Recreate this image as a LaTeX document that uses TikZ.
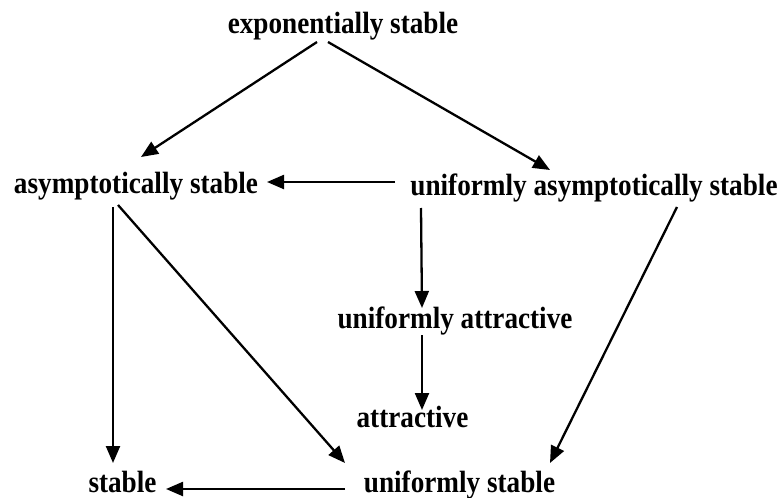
\documentclass[tikz,border=0pt]{standalone}
\usepackage{fontspec}
\setmainfont{Liberation Serif}
\usetikzlibrary{arrows.meta}
\newcommand{\lbl}[1]{\scalebox{1}[1.13]{#1}}

\begin{document}
\begin{tikzpicture}[x=0.5pt, y=-0.5pt, >={Triangle[length=8.5pt,width=7pt]},
  every node/.style={inner sep=0pt, anchor=base, font=\fontsize{13.6}{16}\selectfont\bfseries},
  imp/.style={->, line width=1.15pt}]
  \useasboundingbox (0,0) rectangle (782,498);
  \node (exp) at (343,33) {\lbl{exponentially stable}};
  \node (asym) at (136,193) {\lbl{asymptotically stable}};
  \node (uas) at (594,195) {\lbl{uniformly asymptotically stable}};
  \node (ua) at (455,328) {\lbl{uniformly attractive}};
  \node (attr) at (412.5,427) {\lbl{attractive}};
  \node (st) at (122.5,492) {\lbl{stable}};
  \node (us) at (459.5,492) {\lbl{uniformly stable}};
  \draw[imp] ([shift={(-26,9)}]exp.base) -- ([shift={(5,-36)}]asym.base);
  \draw[imp] ([shift={(-15,9)}]exp.base) -- ([shift={(-44,-25)}]uas.base);
  \draw[imp] ([shift={(-199,-13)}]uas.base) -- ([shift={(131,-11)}]asym.base);
  \draw[imp] ([shift={(-173,13)}]uas.base) -- ([shift={(-33,-20)}]ua.base);
  \draw[imp] ([shift={(-33,7)}]ua.base) -- ([shift={(9.5,-17)}]attr.base);
  \draw[imp] ([shift={(-23,14)}]asym.base) -- ([shift={(-9.5,-29)}]st.base);
  \draw[imp] ([shift={(-18,12)}]asym.base) -- ([shift={(-114.5,-29)}]us.base);
  \draw[imp] ([shift={(83,12)}]uas.base) -- ([shift={(90.5,-29)}]us.base);
  \draw[imp] ([shift={(-114.5,-3)}]us.base) -- ([shift={(43.5,-3)}]st.base);
\end{tikzpicture}
\end{document}
